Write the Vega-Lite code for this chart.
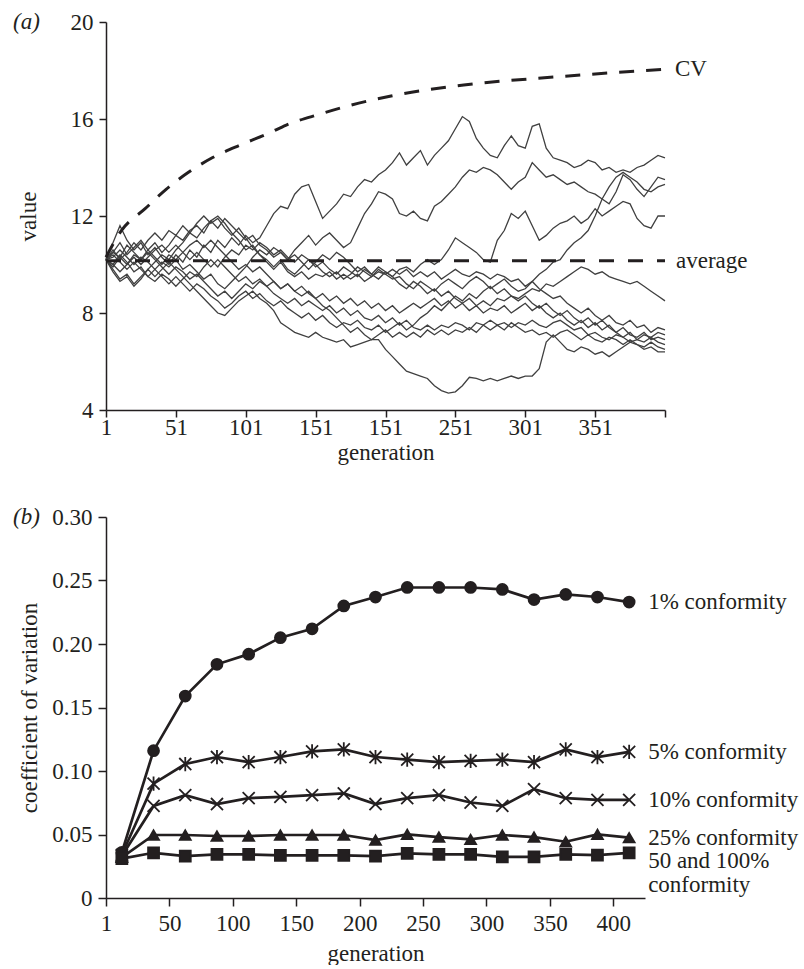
{
  "$schema": "https://vega.github.io/schema/vega-lite/v6.json",
  "background": "white",
  "padding": {"left": 13, "top": 11, "right": 2, "bottom": 0},
  "spacing": 42,
  "config": {
    "font": "Liberation Serif",
    "view": {"stroke": null},
    "axis": {
      "labelFont": "Liberation Serif", "titleFont": "Liberation Serif",
      "labelFontSize": 23, "titleFontSize": 23, "titleFontWeight": "normal",
      "labelColor": "#231f20", "titleColor": "#231f20",
      "domainColor": "#231f20", "tickColor": "#231f20",
      "domainWidth": 1.5, "tickWidth": 1.5, "grid": false,
      "labelOverlap": false, "labelFlush": false
    },
    "text": {"font": "Liberation Serif", "fontSize": 23, "color": "#231f20"}
  },
  "datasets": {
    "walks": [
      {"gen":1,"a":10.2,"b":10.2,"c":10.2,"d":10.2,"e":10.2,"f":10.2,"g":10.2,"h":10.2,"i":10.2,"j":10.2,"k":10.2},
      {"gen":6,"a":10.9,"b":10.5,"c":9.8,"d":10.0,"e":10.5,"f":9.7,"g":10.6,"h":9.9,"i":10.4,"j":10.0,"k":10.3},
      {"gen":11,"a":11.6,"b":10.3,"c":9.4,"d":10.4,"e":10.9,"f":9.3,"g":10.2,"h":10.3,"i":10.1,"j":9.7,"k":10.6},
      {"gen":16,"a":11.0,"b":10.8,"c":9.6,"d":10.1,"e":10.4,"f":9.5,"g":10.5,"h":10.0,"i":9.8,"j":10.0,"k":10.3},
      {"gen":21,"a":10.6,"b":10.5,"c":9.2,"d":9.7,"e":10.7,"f":9.1,"g":10.9,"h":10.4,"i":10.1,"j":10.3,"k":10.0},
      {"gen":26,"a":10.9,"b":10.2,"c":9.5,"d":9.9,"e":11.0,"f":9.4,"g":10.6,"h":10.2,"i":9.8,"j":10.0,"k":10.3},
      {"gen":31,"a":10.4,"b":10.6,"c":9.8,"d":9.5,"e":10.6,"f":9.8,"g":11.0,"h":10.5,"i":9.5,"j":10.3,"k":10.1},
      {"gen":36,"a":10.7,"b":10.9,"c":10.1,"d":9.3,"e":10.3,"f":9.5,"g":11.3,"h":10.2,"i":9.8,"j":10.6,"k":9.8},
      {"gen":41,"a":10.3,"b":10.5,"c":10.4,"d":9.6,"e":10.0,"f":9.8,"g":11.0,"h":9.9,"i":9.5,"j":10.8,"k":10.1},
      {"gen":46,"a":10.0,"b":10.8,"c":10.2,"d":9.4,"e":10.4,"f":10.1,"g":11.4,"h":9.6,"i":9.2,"j":10.5,"k":9.9},
      {"gen":51,"a":10.4,"b":11.2,"c":10.6,"d":9.1,"e":10.2,"f":9.8,"g":11.2,"h":9.9,"i":9.5,"j":10.8,"k":10.2},
      {"gen":56,"a":10.1,"b":11.0,"c":10.9,"d":9.4,"e":9.8,"f":9.5,"g":11.6,"h":9.7,"i":9.2,"j":10.5,"k":10.5},
      {"gen":61,"a":10.6,"b":11.4,"c":11.3,"d":9.7,"e":10.0,"f":9.2,"g":11.3,"h":9.4,"i":8.9,"j":10.2,"k":10.8},
      {"gen":66,"a":10.3,"b":11.6,"c":11.1,"d":9.5,"e":9.7,"f":8.9,"g":11.7,"h":9.6,"i":9.2,"j":10.5,"k":11.0},
      {"gen":71,"a":10.8,"b":11.3,"c":11.5,"d":9.9,"e":9.4,"f":8.6,"g":12.0,"h":9.3,"i":9.0,"j":10.2,"k":10.7},
      {"gen":76,"a":10.5,"b":11.8,"c":11.8,"d":10.2,"e":9.6,"f":8.3,"g":11.7,"h":9.0,"i":8.7,"j":9.9,"k":11.0},
      {"gen":81,"a":11.0,"b":11.5,"c":12.0,"d":9.9,"e":9.2,"f":8.0,"g":11.9,"h":8.7,"i":8.5,"j":10.2,"k":10.7},
      {"gen":86,"a":10.7,"b":11.9,"c":11.7,"d":10.3,"e":9.0,"f":7.9,"g":11.5,"h":8.9,"i":8.2,"j":9.9,"k":10.4},
      {"gen":91,"a":11.1,"b":11.6,"c":11.3,"d":10.6,"e":9.3,"f":8.2,"g":11.2,"h":8.6,"i":8.4,"j":9.6,"k":10.1},
      {"gen":96,"a":10.8,"b":11.3,"c":11.0,"d":10.4,"e":9.6,"f":8.5,"g":11.5,"h":8.9,"i":8.7,"j":9.3,"k":9.8},
      {"gen":101,"a":11.2,"b":11.0,"c":10.6,"d":10.8,"e":9.9,"f":8.7,"g":11.1,"h":9.2,"i":8.9,"j":9.5,"k":10.0},
      {"gen":106,"a":10.9,"b":11.2,"c":10.8,"d":10.6,"e":10.3,"f":8.9,"g":10.7,"h":9.0,"i":8.6,"j":9.2,"k":9.7},
      {"gen":111,"a":11.1,"b":10.8,"c":10.4,"d":10.9,"e":10.6,"f":8.6,"g":10.4,"h":9.3,"i":8.8,"j":9.4,"k":9.9},
      {"gen":116,"a":11.6,"b":10.6,"c":10.2,"d":10.7,"e":10.4,"f":8.4,"g":10.1,"h":9.1,"i":8.5,"j":9.1,"k":9.6},
      {"gen":121,"a":12.1,"b":10.3,"c":9.9,"d":10.4,"e":10.7,"f":8.1,"g":9.8,"h":8.8,"i":8.3,"j":9.3,"k":9.3},
      {"gen":126,"a":12.4,"b":10.5,"c":10.2,"d":10.6,"e":10.5,"f":7.6,"g":10.1,"h":8.6,"i":8.5,"j":9.0,"k":9.0},
      {"gen":131,"a":12.3,"b":10.2,"c":9.8,"d":10.3,"e":10.2,"f":7.4,"g":9.7,"h":8.4,"i":8.2,"j":9.2,"k":9.2},
      {"gen":136,"a":12.9,"b":10.6,"c":9.6,"d":10.1,"e":10.4,"f":7.2,"g":9.5,"h":8.6,"i":8.0,"j":8.9,"k":8.9},
      {"gen":141,"a":13.2,"b":10.9,"c":9.9,"d":10.4,"e":10.1,"f":7.1,"g":9.7,"h":8.3,"i":7.8,"j":9.1,"k":8.7},
      {"gen":146,"a":13.3,"b":11.2,"c":10.2,"d":10.2,"e":9.8,"f":7.0,"g":9.4,"h":8.5,"i":8.0,"j":8.8,"k":8.9},
      {"gen":151,"a":12.6,"b":10.8,"c":10.0,"d":9.9,"e":10.1,"f":7.2,"g":9.6,"h":8.3,"i":7.7,"j":8.6,"k":8.6},
      {"gen":156,"a":11.9,"b":11.1,"c":9.7,"d":10.1,"e":10.4,"f":7.0,"g":9.5,"h":8.1,"i":7.9,"j":8.8,"k":8.3},
      {"gen":161,"a":12.2,"b":11.3,"c":9.5,"d":9.8,"e":10.2,"f":6.9,"g":9.7,"h":8.3,"i":7.6,"j":8.5,"k":8.1},
      {"gen":166,"a":12.5,"b":11.0,"c":9.7,"d":9.6,"e":10.5,"f":6.8,"g":9.4,"h":8.0,"i":7.4,"j":8.7,"k":7.8},
      {"gen":171,"a":12.9,"b":10.7,"c":9.4,"d":9.9,"e":10.3,"f":6.9,"g":9.6,"h":8.2,"i":7.6,"j":8.4,"k":7.5},
      {"gen":176,"a":12.8,"b":10.9,"c":9.6,"d":9.7,"e":10.0,"f":6.6,"g":9.4,"h":7.9,"i":7.5,"j":8.6,"k":7.2},
      {"gen":181,"a":13.2,"b":11.5,"c":9.9,"d":9.5,"e":9.7,"f":6.7,"g":9.6,"h":8.1,"i":7.7,"j":8.3,"k":7.4},
      {"gen":186,"a":13.5,"b":12.1,"c":9.7,"d":9.8,"e":9.9,"f":6.8,"g":9.3,"h":7.8,"i":7.4,"j":8.5,"k":7.1},
      {"gen":191,"a":13.4,"b":12.5,"c":9.5,"d":9.6,"e":9.6,"f":6.9,"g":9.5,"h":7.7,"i":7.3,"j":8.2,"k":6.9},
      {"gen":196,"a":13.7,"b":13.0,"c":9.8,"d":9.9,"e":9.4,"f":6.9,"g":9.7,"h":7.9,"i":7.5,"j":8.4,"k":7.1},
      {"gen":201,"a":13.9,"b":12.9,"c":9.6,"d":9.7,"e":9.7,"f":6.5,"g":9.6,"h":7.6,"i":7.2,"j":8.1,"k":7.3},
      {"gen":206,"a":14.2,"b":12.7,"c":9.4,"d":9.5,"e":9.5,"f":6.2,"g":9.8,"h":7.8,"i":7.4,"j":8.3,"k":7.0},
      {"gen":211,"a":14.6,"b":12.1,"c":9.5,"d":9.8,"e":9.2,"f":5.9,"g":9.6,"h":7.5,"i":7.6,"j":8.0,"k":7.2},
      {"gen":216,"a":14.1,"b":12.0,"c":9.2,"d":9.9,"e":9.0,"f":5.6,"g":9.8,"h":7.7,"i":7.3,"j":8.2,"k":7.0},
      {"gen":221,"a":14.4,"b":12.2,"c":9.0,"d":9.7,"e":9.3,"f":5.5,"g":9.5,"h":7.4,"i":7.5,"j":8.4,"k":7.2},
      {"gen":226,"a":14.7,"b":11.9,"c":9.3,"d":10.0,"e":9.1,"f":5.4,"g":9.7,"h":7.3,"i":7.8,"j":8.2,"k":7.0},
      {"gen":231,"a":14.1,"b":11.8,"c":9.1,"d":10.2,"e":8.8,"f":5.3,"g":9.5,"h":7.5,"i":8.0,"j":8.4,"k":7.3},
      {"gen":236,"a":14.5,"b":12.4,"c":8.9,"d":10.0,"e":9.0,"f":5.0,"g":9.7,"h":7.3,"i":8.3,"j":8.6,"k":7.1},
      {"gen":241,"a":14.8,"b":12.6,"c":9.2,"d":10.2,"e":8.7,"f":4.8,"g":9.4,"h":7.5,"i":8.1,"j":8.3,"k":7.3},
      {"gen":246,"a":15.1,"b":12.9,"c":9.4,"d":10.6,"e":8.9,"f":4.7,"g":9.6,"h":7.4,"i":8.4,"j":8.5,"k":7.1},
      {"gen":251,"a":15.6,"b":13.2,"c":9.2,"d":11.1,"e":8.6,"f":4.75,"g":9.8,"h":7.6,"i":8.7,"j":8.2,"k":7.3},
      {"gen":256,"a":16.1,"b":13.6,"c":9.0,"d":10.9,"e":8.4,"f":5.0,"g":9.6,"h":7.5,"i":8.5,"j":8.4,"k":7.2},
      {"gen":261,"a":15.9,"b":13.9,"c":9.3,"d":10.7,"e":8.6,"f":5.35,"g":9.5,"h":7.3,"i":8.8,"j":8.1,"k":7.4},
      {"gen":266,"a":15.2,"b":13.8,"c":9.5,"d":10.5,"e":8.3,"f":5.3,"g":9.7,"h":7.6,"i":8.6,"j":8.3,"k":7.2},
      {"gen":271,"a":14.8,"b":14.0,"c":9.3,"d":10.2,"e":8.5,"f":5.2,"g":9.6,"h":7.5,"i":8.9,"j":8.0,"k":7.5},
      {"gen":276,"a":14.5,"b":13.9,"c":9.0,"d":10.1,"e":8.3,"f":5.3,"g":9.4,"h":7.7,"i":9.1,"j":8.2,"k":7.3},
      {"gen":281,"a":14.4,"b":13.7,"c":9.2,"d":11.0,"e":8.6,"f":5.2,"g":9.6,"h":7.5,"i":8.8,"j":8.1,"k":7.5},
      {"gen":286,"a":14.9,"b":13.4,"c":9.4,"d":11.4,"e":8.5,"f":5.3,"g":9.5,"h":7.6,"i":9.0,"j":8.3,"k":7.3},
      {"gen":291,"a":15.3,"b":13.1,"c":9.1,"d":12.1,"e":8.7,"f":5.4,"g":9.3,"h":7.4,"i":8.7,"j":8.0,"k":7.6},
      {"gen":296,"a":14.9,"b":13.4,"c":8.9,"d":11.9,"e":8.6,"f":5.3,"g":9.4,"h":7.6,"i":8.5,"j":8.2,"k":7.4},
      {"gen":301,"a":14.8,"b":13.6,"c":9.0,"d":12.2,"e":8.8,"f":5.4,"g":9.1,"h":7.5,"i":8.7,"j":8.4,"k":7.2},
      {"gen":306,"a":15.7,"b":14.2,"c":9.3,"d":11.6,"e":9.0,"f":5.4,"g":9.3,"h":7.7,"i":8.4,"j":8.1,"k":7.3},
      {"gen":311,"a":15.8,"b":13.9,"c":9.6,"d":11.0,"e":8.9,"f":5.7,"g":9.0,"h":7.5,"i":8.2,"j":8.3,"k":7.1},
      {"gen":316,"a":14.8,"b":13.6,"c":9.8,"d":11.2,"e":9.2,"f":6.8,"g":8.8,"h":7.4,"i":8.4,"j":8.0,"k":7.2},
      {"gen":321,"a":14.4,"b":13.7,"c":10.1,"d":11.5,"e":9.1,"f":7.1,"g":8.6,"h":7.6,"i":8.1,"j":7.8,"k":7.0},
      {"gen":326,"a":14.3,"b":13.5,"c":10.2,"d":11.7,"e":9.3,"f":6.8,"g":8.7,"h":7.7,"i":7.9,"j":8.0,"k":7.2},
      {"gen":331,"a":14.2,"b":13.3,"c":10.6,"d":11.8,"e":9.5,"f":6.5,"g":8.4,"h":7.5,"i":8.1,"j":7.7,"k":7.3},
      {"gen":336,"a":14.0,"b":13.4,"c":10.9,"d":12.0,"e":9.7,"f":6.4,"g":8.2,"h":7.3,"i":7.8,"j":7.5,"k":7.1},
      {"gen":341,"a":14.1,"b":13.2,"c":11.1,"d":11.7,"e":9.9,"f":6.6,"g":8.0,"h":7.4,"i":7.6,"j":7.7,"k":6.9},
      {"gen":346,"a":14.3,"b":13.0,"c":11.4,"d":11.9,"e":9.8,"f":6.5,"g":8.2,"h":7.1,"i":7.8,"j":7.4,"k":7.1},
      {"gen":351,"a":14.2,"b":12.9,"c":12.0,"d":12.3,"e":9.6,"f":6.3,"g":7.9,"h":7.2,"i":7.5,"j":7.6,"k":6.9},
      {"gen":356,"a":13.9,"b":12.7,"c":12.7,"d":12.0,"e":9.7,"f":6.4,"g":7.7,"h":7.0,"i":7.7,"j":7.3,"k":6.8},
      {"gen":361,"a":14.0,"b":12.5,"c":13.2,"d":12.2,"e":9.5,"f":6.2,"g":7.9,"h":6.9,"i":7.4,"j":7.5,"k":7.0},
      {"gen":366,"a":13.8,"b":13.0,"c":13.6,"d":12.4,"e":9.4,"f":6.4,"g":7.6,"h":7.1,"i":7.2,"j":7.2,"k":6.9},
      {"gen":371,"a":13.9,"b":13.7,"c":13.8,"d":12.6,"e":9.3,"f":6.6,"g":7.5,"h":7.0,"i":7.4,"j":7.0,"k":6.7},
      {"gen":376,"a":13.8,"b":13.5,"c":13.6,"d":12.5,"e":9.2,"f":6.8,"g":7.7,"h":6.8,"i":7.1,"j":7.2,"k":6.9},
      {"gen":381,"a":14.0,"b":13.1,"c":13.4,"d":11.9,"e":9.3,"f":6.7,"g":7.4,"h":6.9,"i":7.0,"j":6.9,"k":6.7},
      {"gen":386,"a":14.1,"b":12.8,"c":13.1,"d":11.6,"e":9.1,"f":6.5,"g":7.5,"h":7.1,"i":7.2,"j":6.8,"k":6.6},
      {"gen":391,"a":14.3,"b":13.2,"c":13.0,"d":11.5,"e":8.9,"f":6.6,"g":7.2,"h":7.0,"i":6.9,"j":7.0,"k":6.8},
      {"gen":396,"a":14.5,"b":13.6,"c":13.2,"d":12.0,"e":8.7,"f":6.4,"g":7.4,"h":7.2,"i":7.0,"j":6.8,"k":6.6},
      {"gen":401,"a":14.4,"b":13.5,"c":13.3,"d":12.0,"e":8.5,"f":6.4,"g":7.3,"h":7.1,"i":6.9,"j":6.7,"k":6.5}
    ],
    "cvcurve": [
      {"gen":1,"value":10.3},{"gen":12,"value":11.4},{"gen":29,"value":12.3},{"gen":44,"value":13.1},
      {"gen":60,"value":13.8},{"gen":77,"value":14.4},{"gen":98,"value":14.95},{"gen":117,"value":15.4},
      {"gen":130,"value":15.75},{"gen":154,"value":16.2},{"gen":175,"value":16.55},{"gen":205,"value":16.95},
      {"gen":257,"value":17.4},{"gen":326,"value":17.75},{"gen":401,"value":18.05}
    ],
    "average": [
      {"gen":1,"value":10.15},{"gen":401,"value":10.15}
    ],
    "conf": [
      {"gen":12.5,"1% conformity":0.036,"5% conformity":0.034,"10% conformity":0.033,"25% conformity":0.032,"50 and 100% conformity":0.031},
      {"gen":37.5,"1% conformity":0.116,"5% conformity":0.090,"10% conformity":0.0725,"25% conformity":0.0496,"50 and 100% conformity":0.0356},
      {"gen":62.5,"1% conformity":0.159,"5% conformity":0.1055,"10% conformity":0.081,"25% conformity":0.0496,"50 and 100% conformity":0.033},
      {"gen":87.5,"1% conformity":0.184,"5% conformity":0.111,"10% conformity":0.074,"25% conformity":0.0488,"50 and 100% conformity":0.0343},
      {"gen":112.5,"1% conformity":0.192,"5% conformity":0.107,"10% conformity":0.0786,"25% conformity":0.0488,"50 and 100% conformity":0.0343},
      {"gen":137.5,"1% conformity":0.205,"5% conformity":0.111,"10% conformity":0.0796,"25% conformity":0.0496,"50 and 100% conformity":0.0335},
      {"gen":162.5,"1% conformity":0.212,"5% conformity":0.1155,"10% conformity":0.081,"25% conformity":0.0496,"50 and 100% conformity":0.0335},
      {"gen":187.5,"1% conformity":0.230,"5% conformity":0.117,"10% conformity":0.0823,"25% conformity":0.0496,"50 and 100% conformity":0.0335},
      {"gen":212.5,"1% conformity":0.237,"5% conformity":0.111,"10% conformity":0.074,"25% conformity":0.0456,"50 and 100% conformity":0.033},
      {"gen":237.5,"1% conformity":0.2445,"5% conformity":0.109,"10% conformity":0.0786,"25% conformity":0.0501,"50 and 100% conformity":0.0351},
      {"gen":262.5,"1% conformity":0.2445,"5% conformity":0.107,"10% conformity":0.081,"25% conformity":0.048,"50 and 100% conformity":0.0343},
      {"gen":287.5,"1% conformity":0.2445,"5% conformity":0.108,"10% conformity":0.0752,"25% conformity":0.0461,"50 and 100% conformity":0.0343},
      {"gen":312.5,"1% conformity":0.243,"5% conformity":0.109,"10% conformity":0.0725,"25% conformity":0.0496,"50 and 100% conformity":0.0324},
      {"gen":337.5,"1% conformity":0.235,"5% conformity":0.107,"10% conformity":0.0857,"25% conformity":0.048,"50 and 100% conformity":0.0324},
      {"gen":362.5,"1% conformity":0.239,"5% conformity":0.117,"10% conformity":0.0786,"25% conformity":0.0443,"50 and 100% conformity":0.0343},
      {"gen":387.5,"1% conformity":0.237,"5% conformity":0.111,"10% conformity":0.0773,"25% conformity":0.0501,"50 and 100% conformity":0.0338},
      {"gen":412.5,"1% conformity":0.233,"5% conformity":0.115,"10% conformity":0.0773,"25% conformity":0.0475,"50 and 100% conformity":0.0356}
    ]
  },
  "vconcat": [
    {
      "width": 559,
      "height": 388,
      "layer": [
        {
          "data": {"name": "walks"},
          "transform": [{"fold": ["a","b","c","d","e","f","g","h","i","j","k"], "as": ["run","value"]}],
          "mark": {"type": "line", "stroke": "#404040", "strokeWidth": 1.3},
          "encoding": {
            "x": {"field": "gen", "type": "quantitative",
              "scale": {"domain": [1, 401], "nice": false, "zero": false},
              "axis": {"title": "generation", "values": [1,26,51,76,101,126,151,176,201,226,251,276,301,326,351,376,401],
                "format": "d",
                "labelExpr": "datum.value == 201 ? '151' : ((datum.value - 1) % 50 == 0 && datum.value < 400 ? datum.label : '')",
                "tickSize": 7, "labelPadding": -1, "titlePadding": 2}},
            "y": {"field": "value", "type": "quantitative",
              "scale": {"domain": [4, 20], "nice": false, "zero": false},
              "axis": {"title": "value", "values": [4,8,12,16,20], "tickSize": 7, "labelPadding": 6, "titlePadding": 30}},
            "detail": {"field": "run"}
          }
        },
        {
          "data": {"name": "cvcurve"},
          "mark": {"type": "line", "interpolate": "monotone", "stroke": "#231f20", "strokeWidth": 3, "strokeDash": [15, 12]},
          "encoding": {
            "x": {"field": "gen", "type": "quantitative"},
            "y": {"field": "value", "type": "quantitative"}
          }
        },
        {
          "data": {"name": "average"},
          "mark": {"type": "line", "stroke": "#231f20", "strokeWidth": 3, "strokeDash": [15, 14]},
          "encoding": {
            "x": {"field": "gen", "type": "quantitative"},
            "y": {"field": "value", "type": "quantitative"}
          }
        },
        {
          "data": {"name": "cvcurve"},
          "transform": [{"filter": "datum.gen == 401"}],
          "mark": {"type": "text", "text": "CV", "align": "left", "baseline": "middle", "dx": 10},
          "encoding": {
            "x": {"field": "gen", "type": "quantitative"},
            "y": {"field": "value", "type": "quantitative"}
          }
        },
        {
          "data": {"name": "average"},
          "transform": [{"filter": "datum.gen == 401"}],
          "mark": {"type": "text", "text": "average", "align": "left", "baseline": "middle", "dx": 11},
          "encoding": {
            "x": {"field": "gen", "type": "quantitative"},
            "y": {"field": "value", "type": "quantitative"}
          }
        },
        {
          "data": {"values": [{"panel": "(a)"}]},
          "mark": {"type": "text", "align": "left", "baseline": "middle", "dx": -93, "fontStyle": "italic"},
          "encoding": {
            "x": {"datum": 1, "type": "quantitative"},
            "y": {"datum": 20, "type": "quantitative"},
            "text": {"field": "panel"}
          }
        }
      ]
    },
    {
      "width": 539,
      "height": 381,
      "layer": [
        {
          "data": {"name": "conf"},
          "transform": [{"fold": ["1% conformity","5% conformity","10% conformity","25% conformity","50 and 100% conformity"], "as": ["series","cv"]}],
          "mark": {"type": "line", "stroke": "#231f20", "strokeWidth": 2.7},
          "encoding": {
            "x": {"field": "gen", "type": "quantitative",
              "scale": {"domain": [0, 425], "nice": false, "zero": false},
              "axis": {"title": "generation", "values": [0,25,50,75,100,125,150,175,200,225,250,275,300,325,350,375,400,425],
                "format": "d",
                "labelExpr": "datum.value == 0 ? '1' : (datum.value % 50 == 0 ? datum.label : '')",
                "tickSize": 8, "labelPadding": 6, "titlePadding": 7}},
            "y": {"field": "cv", "type": "quantitative",
              "scale": {"domain": [0, 0.3], "nice": false, "zero": true},
              "axis": {"title": "coefficient of variation", "values": [0,0.05,0.1,0.15,0.2,0.25,0.3],
                "labelExpr": "datum.value == 0 ? '0' : format(datum.value, '.2f')",
                "tickSize": 8, "labelPadding": 6, "titlePadding": 10}},
            "detail": {"field": "series"}
          }
        },
        {
          "data": {"name": "conf"},
          "transform": [{"fold": ["1% conformity","5% conformity","10% conformity","25% conformity","50 and 100% conformity"], "as": ["series","cv"]}],
          "mark": {"type": "point", "filled": true, "fill": "#231f20", "stroke": "#231f20", "strokeWidth": 1.8, "size": 120, "opacity": 1},
          "encoding": {
            "x": {"field": "gen", "type": "quantitative"},
            "y": {"field": "cv", "type": "quantitative"},
            "shape": {"field": "series", "type": "nominal", "legend": null,
              "scale": {"domain": ["1% conformity","5% conformity","10% conformity","25% conformity","50 and 100% conformity"],
                "range": ["circle", "M-1.1,-1.1L1.1,1.1M-1.1,1.1L1.1,-1.1M0,-1.3L0,1.3", "M-1.1,-1.1L1.1,1.1M-1.1,1.1L1.1,-1.1", "triangle-up", "square"]}}
          }
        },
        {
          "data": {"name": "conf"},
          "transform": [
            {"fold": ["1% conformity","5% conformity","10% conformity","25% conformity"], "as": ["series","cv"]},
            {"filter": "datum.gen == 412.5"}
          ],
          "mark": {"type": "text", "align": "left", "baseline": "middle", "dx": 19},
          "encoding": {
            "x": {"field": "gen", "type": "quantitative"},
            "y": {"field": "cv", "type": "quantitative"},
            "text": {"field": "series"}
          }
        },
        {
          "data": {"name": "conf"},
          "transform": [
            {"fold": ["50 and 100% conformity"], "as": ["series","cv"]},
            {"filter": "datum.gen == 412.5"}
          ],
          "mark": {"type": "text", "text": ["50 and 100%", "conformity"], "lineHeight": 24, "align": "left", "baseline": "middle", "dx": 19, "dy": 8},
          "encoding": {
            "x": {"field": "gen", "type": "quantitative"},
            "y": {"field": "cv", "type": "quantitative"}
          }
        },
        {
          "data": {"values": [{"panel": "(b)"}]},
          "mark": {"type": "text", "align": "left", "baseline": "middle", "dx": -93, "fontStyle": "italic"},
          "encoding": {
            "x": {"datum": 0, "type": "quantitative"},
            "y": {"datum": 0.3, "type": "quantitative"},
            "text": {"field": "panel"}
          }
        }
      ]
    }
  ]
}
